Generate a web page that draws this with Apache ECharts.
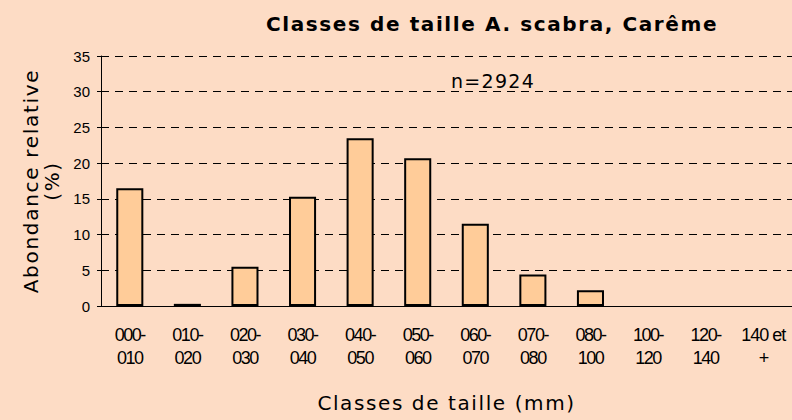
<!DOCTYPE html>
<html>
<head>
<meta charset="utf-8">
<script src="https://cdn.jsdelivr.net/npm/echarts@6/dist/echarts.min.js"></script>
<style>
  html, body { margin: 0; padding: 0; }
  #chart { width: 792px; height: 420px; }
</style>
</head>
<body>
<div id="chart"></div>
<script>
const categories = ['000-\n010', '010-\n020', '020-\n030', '030-\n040', '040-\n050', '050-\n060',
  '060-\n070', '070-\n080', '080-\n100', '100-\n120', '120-\n140', '140 et\n+'];
const abundance = [16.5, 0.3, 5.5, 15.3, 23.5, 20.7, 11.5, 4.4, 2.2, 0, 0, 0];
const sampleLabel = 'n=2924';

const myChart = echarts.init(document.getElementById('chart'), null, { renderer: 'svg' });

// empty classes get no outline
const barData = abundance.map(function (v) {
  return v > 0 ? v : { value: v, itemStyle: { borderWidth: 0 } };
});

const option = {
  backgroundColor: '#fddcc5',
  animation: false,
  title: [
    {
      text: 'Classes de taille A. scabra, Carême',
      left: 487,
      top: 9,
      textAlign: 'center',
      textStyle: { fontFamily: 'DejaVu Sans', fontWeight: 'bold', fontSize: 20, color: '#000' }
    },
    {
      text: sampleLabel,
      left: 488,
      top: 66,
      textAlign: 'center',
      textStyle: { fontFamily: 'DejaVu Sans', fontWeight: 'normal', fontSize: 19, color: '#000' }
    }
  ],
  grid: { left: 101, top: 56, right: 0, bottom: 114 },
  xAxis: {
    type: 'category',
    data: categories,
    name: 'Classes de taille (mm)',
    nameLocation: 'middle',
    nameGap: 87,
    nameTextStyle: { fontFamily: 'DejaVu Sans', fontSize: 20, color: '#000' },
    axisLine: { lineStyle: { color: '#000', width: 1 } },
    axisTick: { length: 5, lineStyle: { color: '#555' } },
    axisLabel: {
      fontFamily: 'Liberation Sans',
      fontSize: 18,
      color: '#000',
      margin: 17,
      lineHeight: 23,
      interval: 0
    }
  },
  yAxis: {
    type: 'value',
    min: 0,
    max: 35,
    interval: 5,
    name: 'Abondance relative\n(%)',
    nameLocation: 'middle',
    nameGap: 35,
    nameRotate: 90,
    nameTextStyle: { fontFamily: 'DejaVu Sans', fontSize: 20, color: '#000', lineHeight: 21 },
    axisLine: { show: true, lineStyle: { color: '#000', width: 1 } },
    axisTick: { show: true, length: 4, lineStyle: { color: '#000' } },
    axisLabel: { fontFamily: 'Liberation Sans', fontSize: 15, color: '#000', margin: 11 },
    splitLine: { lineStyle: { color: '#000', type: [8, 6], width: 1 } }
  },
  series: [
    {
      type: 'bar',
      data: barData,
      barCategoryGap: '53%',
      itemStyle: { color: '#ffcc99', borderColor: '#000', borderWidth: 2 }
    }
  ]
};

myChart.setOption(option);

// spacing of the original lettering (svg text only)
function spaceLetters() {
  const texts = document.querySelectorAll('#chart text');
  texts.forEach(function (t) {
    const s = t.textContent;
    let ls = null;
    if (s.indexOf('Classes de taille A.') === 0) ls = '1.6px';
    else if (s === sampleLabel) ls = '1.3px';
    else if (s.indexOf('Classes de taille (') === 0) ls = '1.6px';
    else if (s.indexOf('Abondance') === 0 || s === '(%)') ls = '1.7px';
    else if (/^[0-9]{3}-?$|^\+$/.test(s)) ls = '-1.5px';
    else if (s === '140 et') ls = '-1px';
    if (ls) t.style.letterSpacing = ls;
  });
}
myChart.on('finished', spaceLetters);
spaceLetters();
</script>
</body>
</html>
